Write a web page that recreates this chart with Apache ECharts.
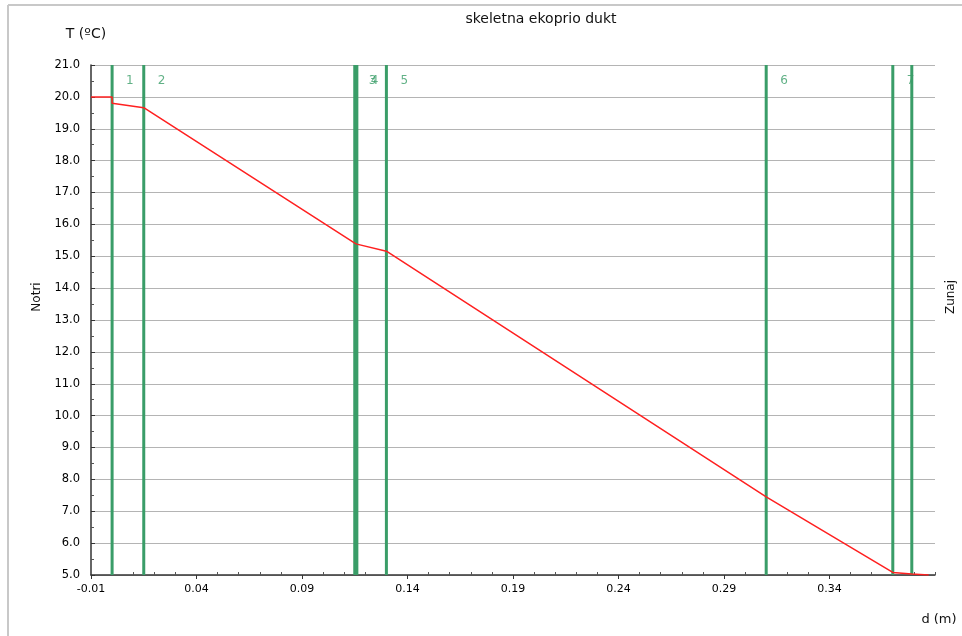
<!DOCTYPE html>
<html>
<head>
<meta charset="utf-8">
<script src="https://cdn.jsdelivr.net/npm/echarts@6/dist/echarts.min.js"></script>
<style>
html,body{margin:0;padding:0;background:#fff;}
#chart{width:962px;height:636px;}
</style>
</head>
<body>
<div id="chart"></div>
<script>
// ---- data ----
const chartTitle = 'skeletna ekoprio dukt';
const xTicks = [-0.01, 0.04, 0.09, 0.14, 0.19, 0.24, 0.29, 0.34];
const xMin = -0.01;
const xMax = 0.39;
const yMin = 5;
const yMax = 21;
const boundaries = [0, 0.015, 0.115, 0.116, 0.130, 0.310, 0.370, 0.379];
const layerLabels = ['1', '2', '3', '4', '5', '6', '7'];
const layerLabelT = 20.5;
const profileX = [-0.01, 0, 0, 0.015, 0.115, 0.116, 0.130, 0.310, 0.370, 0.379, 0.379, 0.387];
const profileT = [20.0, 20.0, 19.80, 19.66, 15.41, 15.38, 15.16, 7.45, 5.08, 5.03, 5.0, 5.0];

// minor tick positions every 0.01 between major ticks
const xMinorTicks = [];
for (let i = 0; i <= 40; i++) {
  const v = +(xMin + i * 0.01).toFixed(3);
  if (!xTicks.some(t => Math.abs(t - v) < 1e-9)) xMinorTicks.push(v);
}

const FONT = 'DejaVu Sans';
const GREEN = '#3a9d68';
const chart = echarts.init(document.getElementById('chart'), null, {renderer: 'canvas'});

const boundarySeries = boundaries.map(b => ({
  type: 'line', z: 2, symbol: 'none', silent: true,
  data: [[b, yMin], [b, yMax]],
  lineStyle: {color: GREEN, width: 3}
}));

const option = {
  animation: false,
  backgroundColor: '#fff',
  grid: {left: 91, right: 27, top: 65, bottom: 61, containLabel: false, outerBoundsMode: 'none'},
  xAxis: [{
    type: 'value', min: xMin, max: xMax,
    axisLine: {show: true, onZero: false, lineStyle: {color: '#333', width: 1.5}},
    axisTick: {show: true, inside: false, length: 4, customValues: xTicks, lineStyle: {color: '#333'}},
    axisLabel: {show: true, customValues: xTicks, margin: 9, color: '#000', fontFamily: FONT, fontSize: 11,
      formatter: v => v.toFixed(2)},
    splitLine: {show: false}
  }, {
    type: 'value', min: xMin, max: xMax, position: 'bottom',
    axisLine: {show: false},
    axisTick: {show: true, inside: true, length: 3, customValues: xMinorTicks, lineStyle: {color: '#555'}},
    axisLabel: {show: false},
    splitLine: {show: false}
  }],
  yAxis: {
    type: 'value', min: yMin, max: yMax, interval: 1,
    axisLine: {show: true, onZero: false, lineStyle: {color: '#333', width: 1.5}},
    axisTick: {show: true, inside: true, length: 4, lineStyle: {color: '#333'}},
    minorTick: {show: true, splitNumber: 2, length: 3, lineStyle: {color: '#555'}},
    axisLabel: {margin: 11, color: '#000', fontFamily: FONT, fontSize: 11.5, formatter: v => v.toFixed(1)},
    splitLine: {show: true, lineStyle: {color: '#b4b4b4', width: 1}}
  },
  series: [{
    type: 'scatter', z: 1,
    symbol: 'circle', symbolSize: 2, itemStyle: {color: 'rgba(0,0,0,0)'},
    data: layerLabels.map((l, i) => [boundaries[i], layerLabelT]),
    label: {show: true, position: 'right', distance: 13, color: GREEN, fontFamily: FONT, fontSize: 12,
      formatter: p => layerLabels[p.dataIndex]},
    silent: true
  }].concat(boundarySeries).concat([{
    type: 'line', z: 3, symbol: 'none',
    data: profileX.map((x, i) => [x, profileT[i]]),
    lineStyle: {color: '#ff2020', width: 1.5},
    silent: true
  }]),
  graphic: [
    {type: 'line', silent: true, shape: {x1: 8, y1: 5, x2: 962, y2: 5}, style: {stroke: '#c8c8c8', lineWidth: 2}},
    {type: 'line', silent: true, shape: {x1: 8, y1: 5, x2: 8, y2: 636}, style: {stroke: '#c8c8c8', lineWidth: 2}},
    {type: 'text', x: 541, y: 19, style: {text: chartTitle, font: '14px "DejaVu Sans"', fill: '#111', align: 'center', verticalAlign: 'middle'}},
    {type: 'text', x: 86, y: 34, style: {text: 'T (ºC)', font: '14px "DejaVu Sans"', fill: '#111', align: 'center', verticalAlign: 'middle'}},
    {type: 'text', x: 37, y: 297, rotation: Math.PI / 2, style: {text: 'Notri', font: '12px "DejaVu Sans"', fill: '#111', align: 'center', verticalAlign: 'middle'}},
    {type: 'text', x: 951, y: 297, rotation: Math.PI / 2, style: {text: 'Zunaj', font: '12px "DejaVu Sans"', fill: '#111', align: 'center', verticalAlign: 'middle'}},
    {type: 'text', x: 939, y: 620, style: {text: 'd (m)', font: '13px "DejaVu Sans"', fill: '#111', align: 'center', verticalAlign: 'middle'}}
  ]
};
chart.setOption(option);
</script>
</body>
</html>
